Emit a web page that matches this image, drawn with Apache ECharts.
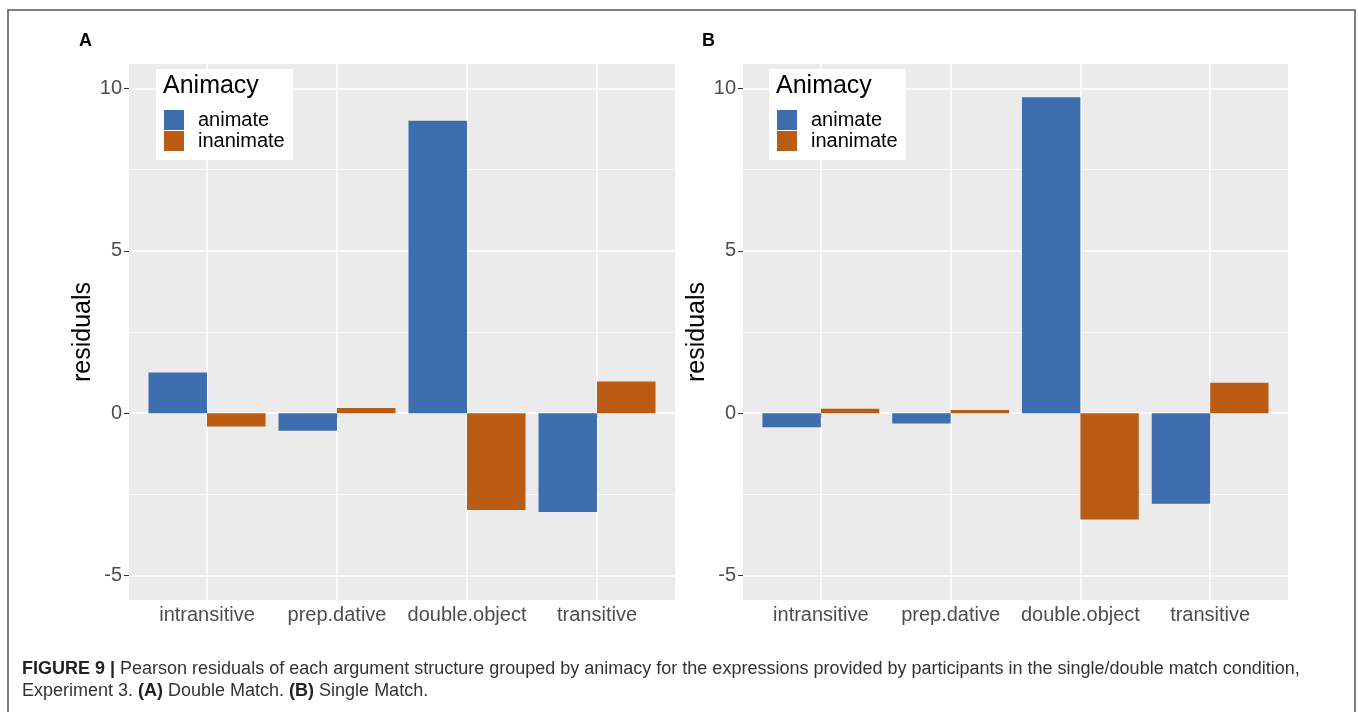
<!DOCTYPE html>
<html>
<head>
<meta charset="utf-8">
<script src="https://cdn.jsdelivr.net/npm/echarts@6/dist/echarts.min.js"></script>
<style>
  html, body { margin: 0; padding: 0; background: #fff; }
  #chart { width: 1358px; height: 712px; }
</style>
</head>
<body>
<div id="chart"></div>
<script>
// data
const categories = ['intransitive', 'prep.dative', 'double.object', 'transitive']
const yTicks = [-5, 0, 5, 10]
const yMinorTicks = [-2.5, 2.5, 7.5]
const animateA = [1.25, -0.54, 9.0, -3.04]
const inanimateA = [-0.41, 0.16, -2.98, 0.98]
const animateB = [-0.43, -0.32, 9.73, -2.79]
const inanimateB = [0.14, 0.1, -3.27, 0.94]
const legendNames = ['animate', 'inanimate']

const BLUE = '#3E6EAD'
const ORANGE = '#BB5C14'
const FONT = '"Liberation Sans", Arial, Helvetica, sans-serif'
const xPos = categories.map((c, i) => i + 1)

const chart = echarts.init(document.getElementById('chart'))

// category axis imitated with a value axis so the ggplot padding (0.6) fits
const makeXAxis = (gridIndex) => ({
  type: 'value',
  gridIndex,
  min: 0.4,
  max: 4.6,
  axisLine: { show: false },
  splitLine: { show: false },
  axisTick: { show: true, customValues: xPos, length: 4, lineStyle: { color: '#333' } },
  axisLabel: {
    customValues: xPos,
    formatter: (v) => categories[Math.round(v) - 1],
    color: '#4D4D4D',
    fontSize: 20,
    fontFamily: FONT,
    margin: 5
  }
})

const makeYAxis = (gridIndex) => ({
  type: 'value',
  gridIndex,
  min: -5.75,
  max: 10.75,
  name: 'residuals',
  nameLocation: 'middle',
  nameRotate: 90,
  nameGap: 31,
  nameTextStyle: { color: '#000', fontSize: 25, fontFamily: FONT },
  axisLine: { show: false },
  splitLine: { show: false },
  axisTick: { show: true, customValues: yTicks, length: 5, lineStyle: { color: '#333' } },
  axisLabel: {
    customValues: yTicks,
    color: '#4D4D4D',
    fontSize: 20,
    fontFamily: FONT,
    margin: 7
  }
})

// white panel grid lines, kept under the bars
const gridLines = (idx) => ({
  type: 'line',
  xAxisIndex: idx,
  yAxisIndex: idx,
  data: [],
  silent: true,
  markLine: {
    z: 1,
    silent: true,
    animation: false,
    symbol: ['none', 'none'],
    label: { show: false },
    emphasis: { disabled: true },
    data: [
      ...yTicks.map(v => ({ yAxis: v, lineStyle: { color: '#fff', width: 1.6, type: 'solid' } })),
      ...yMinorTicks.map(v => ({ yAxis: v, lineStyle: { color: '#fff', width: 0.8, type: 'solid' } })),
      ...xPos.map(v => ({ xAxis: v, lineStyle: { color: '#fff', width: 1.6, type: 'solid' } }))
    ]
  }
})

const barSeries = (name, values, color, idx) => ({
  name,
  type: 'bar',
  xAxisIndex: idx,
  yAxisIndex: idx,
  barWidth: '45%',
  barGap: '0%',
  z: 2,
  animation: false,
  itemStyle: { color },
  data: values.map((v, i) => [xPos[i], v])
})

const makeLegend = (left) => ({
  data: legendNames,
  orient: 'vertical',
  left,
  top: 110,
  padding: 0,
  itemWidth: 20,
  itemHeight: 20,
  itemGap: 1,
  icon: 'rect',
  selectedMode: false,
  z: 5,
  textStyle: { color: '#000', fontSize: 20, fontFamily: FONT, padding: [0, 0, 0, 9] }
})

const legendBox = (x) => [
  { type: 'rect', z: 3, shape: { x, y: 69, width: 137, height: 91 }, style: { fill: '#fff' } },
  { type: 'text', z: 3, x: x + 7, y: 86, style: { text: 'Animacy', fill: '#000', font: '25px ' + FONT, verticalAlign: 'middle' } }
]

const option = {
  backgroundColor: '#fff',
  animation: false,
  grid: [
    { left: 129, top: 64, width: 546, height: 536, show: true, backgroundColor: '#EBEBEB', borderWidth: 0 },
    { left: 743, top: 64, width: 545, height: 536, show: true, backgroundColor: '#EBEBEB', borderWidth: 0 }
  ],
  xAxis: [makeXAxis(0), makeXAxis(1)],
  yAxis: [makeYAxis(0), makeYAxis(1)],
  legend: [makeLegend(164), makeLegend(777)],
  series: [
    gridLines(0),
    gridLines(1),
    barSeries('animate', animateA, BLUE, 0),
    barSeries('inanimate', inanimateA, ORANGE, 0),
    barSeries('animate', animateB, BLUE, 1),
    barSeries('inanimate', inanimateB, ORANGE, 1)
  ],
  graphic: [
    // figure frame
    { type: 'rect', z: 0, shape: { x: 8, y: 10, width: 1347, height: 720 }, style: { fill: 'none', stroke: '#555', lineWidth: 1.5 } },
    { type: 'text', x: 79, y: 41, style: { text: 'A', fill: '#000', font: 'bold 18px ' + FONT, verticalAlign: 'middle' } },
    { type: 'text', x: 702, y: 41, style: { text: 'B', fill: '#000', font: 'bold 18px ' + FONT, verticalAlign: 'middle' } },
    ...legendBox(156),
    ...legendBox(769),
    {
      type: 'text', x: 22, y: 669,
      style: {
        text: '{b|FIGURE 9 |} Pearson residuals of each argument structure grouped by animacy for the expressions provided by participants in the single/double match condition,',
        fill: '#333', font: '18px ' + FONT, verticalAlign: 'middle',
        rich: { b: { fontWeight: 'bold', fontSize: 18, fontFamily: FONT, fill: '#222' } }
      }
    },
    {
      type: 'text', x: 22, y: 691,
      style: {
        text: 'Experiment 3. {b|(A)} Double Match. {b|(B)} Single Match.',
        fill: '#333', font: '18px ' + FONT, verticalAlign: 'middle',
        rich: { b: { fontWeight: 'bold', fontSize: 18, fontFamily: FONT, fill: '#222' } }
      }
    }
  ]
}

chart.setOption(option)
window.addEventListener('resize', () => chart.resize())
</script>
</body>
</html>
